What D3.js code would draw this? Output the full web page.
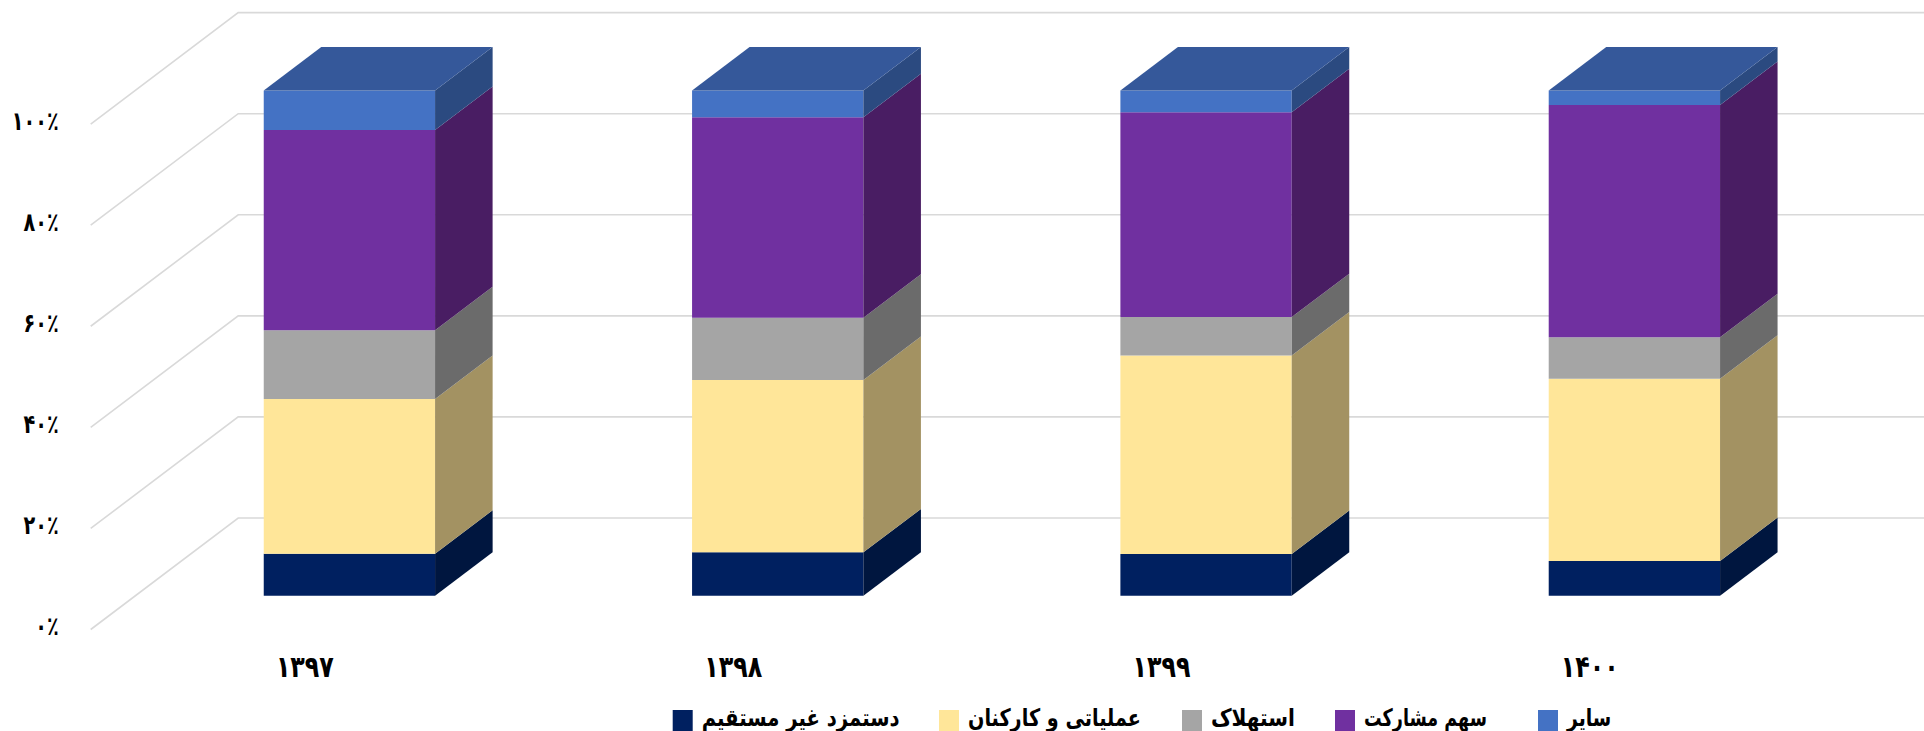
<!DOCTYPE html>
<html>
<head>
<meta charset="utf-8">
<script src="https://cdn.jsdelivr.net/npm/d3@7"></script>
<style>
  html, body { margin: 0; padding: 0; background: #ffffff; }
  svg { display: block; }
  text { font-family: "DejaVu Sans", sans-serif; font-weight: bold; fill: #000; }
</style>
</head>
<body>
<svg id="chart" width="1924" height="731"></svg>
<script>
// ---------------- DATA ----------------
const categories = ["۱۳۹۷", "۱۳۹۸", "۱۳۹۹", "۱۴۰۰"];
const seriesNames = ["دستمزد غیر مستقیم", "عملیاتی و کارکنان", "استهلاک", "سهم مشارکت", "سایر"];
const indirectWage     = [8.3, 8.6, 8.3, 6.9];
const operationalStaff = [30.6, 34.1, 39.3, 36.0];
const depreciation     = [13.6, 12.3, 7.6, 8.2];
const partnershipShare = [39.6, 39.7, 40.6, 45.9];
const otherCosts       = [7.8, 5.3, 4.3, 2.9];
const yTicks = [0, 0.2, 0.4, 0.6, 0.8, 1.0];
const yTickLabels = ["۰٪", "۲۰٪", "۴۰٪", "۶۰٪", "۸۰٪", "۱۰۰٪"];

// ---------------- STYLE ----------------
const frontColors = ["#002060", "#FFE699", "#A5A5A5", "#7030A0", "#4472C4"];
const sideColors  = ["#00163F", "#A39262", "#6B6B6B", "#491D63", "#2B4A80"];
const topColor    = "#35589A";
const gridColor   = "#d9d9d9";

// ---------------- LAYOUT ----------------
const W = 1924, H = 731;
const frontX0 = 90.7, frontX1 = 1804;
const DX = 147.5, DY = -111.5;       // full depth of the 3D floor
const barD0 = 0.302, barD1 = 0.692;  // bar depth position (fraction of floor depth)
const legendTextWidths = [198, 173, 84, 123, 45];   // visual widths of legend labels
const legendStarts = [672.7, 939, 1182, 1335, 1538]; // legend swatch x positions

const svg = d3.select("#chart");

const series = [indirectWage, operationalStaff, depreciation, partnershipShare, otherCosts];
const table = categories.map((c, i) => {
  const row = { cat: c };
  seriesNames.forEach((s, k) => row[s] = series[k][i]);
  return row;
});
const stacked = d3.stack().keys(seriesNames).offset(d3.stackOffsetExpand)(table);

const x = d3.scaleBand().domain(categories).range([frontX0, frontX1])
  .paddingInner(0.6).paddingOuter(0.3);
const y = d3.scaleLinear().domain([0, 1]).range([629.5, 124.1]);

// project a point on the front plane (px, py) to a depth fraction d
const P = (px, py, d) => [px + DX * d, py + DY * d];

// ---- gridlines (side wall diagonals + back wall horizontals)
const grid = svg.append("g");
yTicks.forEach(t => {
  const a = P(frontX0, y(t), 0), b = P(frontX0, y(t), 1);
  grid.append("path")
    .attr("d", `M${a[0]},${a[1]}L${b[0]},${b[1]}L${W + 5},${b[1]}`)
    .attr("fill", "none").attr("stroke", gridColor).attr("stroke-width", 1.6);
});

// ---- bars
const bw = x.bandwidth();
const bars = svg.append("g");
stacked.forEach((layer, k) => {
  layer.forEach((seg, i) => {
    const cat = categories[i];
    const x0 = x(cat), x1 = x0 + bw;
    const yb = y(seg[0]), yt = y(seg[1]);
    const fbl = P(x0, yb, barD0), fbr = P(x1, yb, barD0);
    const ftl = P(x0, yt, barD0), ftr = P(x1, yt, barD0);
    const bbr = P(x1, yb, barD1), btr = P(x1, yt, barD1), btl = P(x0, yt, barD1);
    bars.append("path")
      .attr("d", `M${fbl}L${fbr}L${ftr}L${ftl}Z`)
      .attr("fill", frontColors[k]);
    bars.append("path")
      .attr("d", `M${fbr}L${bbr}L${btr}L${ftr}Z`)
      .attr("fill", sideColors[k]);
    if (k === stacked.length - 1) {
      bars.append("path")
        .attr("d", `M${ftl}L${ftr}L${btr}L${btl}Z`)
        .attr("fill", topColor);
    }
  });
});

// horizontally condense a text element to a target width around an anchor x
function condense(sel, targetW, ax) {
  const w = sel.node().getBBox().width;
  const s = Math.min(1, targetW / w);
  sel.attr("transform", `translate(${ax},0) scale(${s},1) translate(${-ax},0)`);
}

// ---- Y axis (labels only)
const yPad = 32;
const yAxis = d3.axisLeft(y).tickValues(yTicks)
  .tickFormat((d, i) => yTickLabels[i]).tickSize(0).tickPadding(yPad);
const gy = svg.append("g").attr("transform", `translate(${frontX0},0)`).call(yAxis);
gy.select(".domain").remove();
gy.selectAll("text")
  .attr("font-family", "DejaVu Sans").attr("font-weight", "bold")
  .attr("font-size", 26).attr("fill", "#000").attr("dy", 0).attr("y", 5)
  .each(function() {
    const t = d3.select(this);
    const w = this.getBBox().width;
    condense(t, w * 0.74, -yPad);
  });

// ---- X axis (labels only)
const xAxis = d3.axisBottom(x).tickSize(0).tickPadding(0);
const gx = svg.append("g").call(xAxis);
gx.select(".domain").remove();
gx.selectAll("text")
  .attr("font-family", "DejaVu Sans").attr("font-weight", "bold")
  .attr("font-size", 30).attr("fill", "#000").attr("y", 677).attr("dy", 0)
  .each(function() { condense(d3.select(this), 58, 0); });

// ---- Legend
const legend = svg.append("g");
seriesNames.forEach((name, k) => {
  const lx = legendStarts[k];
  legend.append("rect").attr("x", lx).attr("y", 710).attr("width", 20).attr("height", 21)
    .attr("fill", frontColors[k]);
  const tx = lx + 29;
  const t = legend.append("text").attr("x", tx).attr("y", 726)
    .attr("font-size", 24).attr("text-anchor", "start")
    .text(name);
  condense(t, legendTextWidths[k], tx);
});
</script>
</body>
</html>
